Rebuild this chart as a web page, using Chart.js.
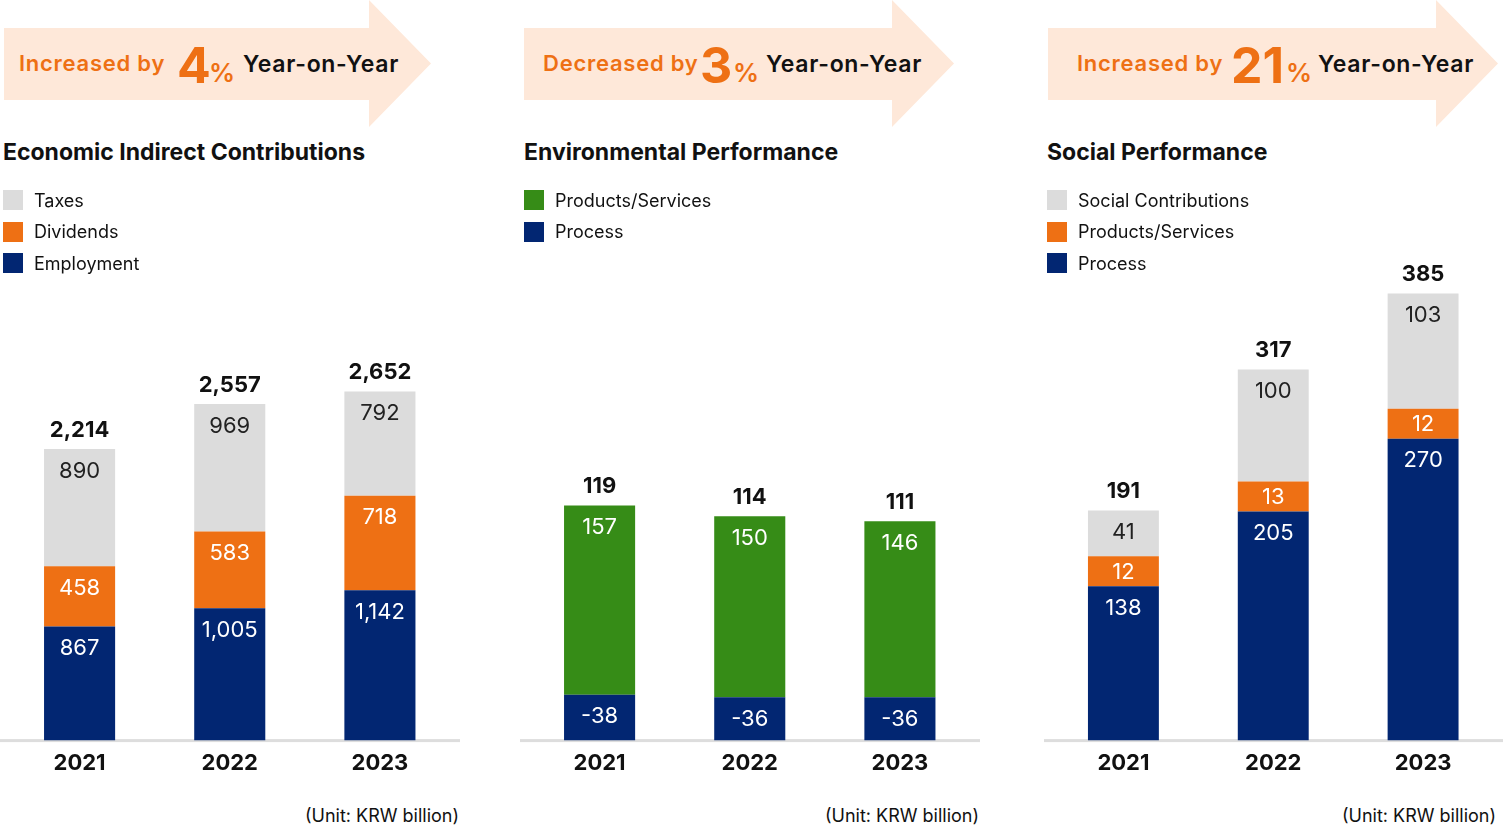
<!DOCTYPE html>
<html>
<head>
<meta charset="utf-8">
<script src="https://cdn.jsdelivr.net/npm/chart.js@4.4.1/dist/chart.umd.min.js"></script>
<style>
body{margin:0;background:#fff;font-family:Inter,"Noto Sans",sans-serif;}
#page{position:relative;width:1503px;height:826px;overflow:hidden;}
.arrow{position:absolute;top:0;height:127px;background:#fee8d9;}
.t{position:absolute;line-height:1;white-space:nowrap;}
.lead{font-size:22px;font-weight:600;color:#ee7014;letter-spacing:0.75px;}
.big{font-size:50px;font-weight:700;color:#ee7014;}
.pct{font-size:26px;font-weight:600;color:#ee7014;}
.yoy{font-size:23px;font-weight:600;color:#111;letter-spacing:0.7px;}
.title{font-size:23px;font-weight:700;color:#111;top:141px;}
.legend{position:absolute;top:190px;}
.legend div{height:20px;margin-bottom:11.5px;display:flex;align-items:center;font-size:18px;color:#111;}
.legend span{display:inline-block;width:20px;height:20px;margin-right:11px;}
.unit{font-size:18px;color:#111;top:807px;text-align:right;}
canvas{position:absolute;}
</style>
</head>
<body>
<div id="page">
  <!-- banners -->
  <div class="arrow" style="left:4px;width:427px;clip-path:polygon(0 28px,365px 28px,365px 0,427px 63.5px,365px 127px,365px 100px,0 100px);"></div>
  <span class="t lead" style="left:19px;top:52px;">Increased by</span>
  <span class="t big" style="left:177px;top:40px;">4</span>
  <span class="t pct" style="left:209px;top:60px;">%</span>
  <span class="t yoy" style="left:243px;top:53px;">Year-on-Year</span>

  <div class="arrow" style="left:524px;width:430px;clip-path:polygon(0 28px,368px 28px,368px 0,430px 63.5px,368px 127px,368px 100px,0 100px);"></div>
  <span class="t lead" style="left:543px;top:52px;">Decreased by</span>
  <span class="t big" style="left:700px;top:40px;">3</span>
  <span class="t pct" style="left:733px;top:60px;">%</span>
  <span class="t yoy" style="left:766px;top:53px;">Year-on-Year</span>

  <div class="arrow" style="left:1048px;width:450px;clip-path:polygon(0 28px,388px 28px,388px 0,450px 63.5px,388px 127px,388px 100px,0 100px);"></div>
  <span class="t lead" style="left:1077px;top:52px;">Increased by</span>
  <span class="t big" style="left:1231px;top:40px;">21</span>
  <span class="t pct" style="left:1286px;top:60px;">%</span>
  <span class="t yoy" style="left:1318px;top:53px;">Year-on-Year</span>

  <!-- titles -->
  <span class="t title" style="left:3px;">Economic Indirect Contributions</span>
  <span class="t title" style="left:524px;">Environmental Performance</span>
  <span class="t title" style="left:1047px;">Social Performance</span>

  <canvas id="c1" style="left:0;top:250px;width:460px;height:537px;" width="460" height="537"></canvas>
  <canvas id="c2" style="left:520px;top:250px;width:460px;height:537px;" width="460" height="537"></canvas>
  <canvas id="c3" style="left:1044px;top:250px;width:459px;height:537px;" width="459" height="537"></canvas>

  <div class="legend" id="l1" style="left:3px;"></div>
  <div class="legend" id="l2" style="left:524px;"></div>
  <div class="legend" id="l3" style="left:1047px;"></div>

  <span class="t unit" style="right:1044px;">(Unit: KRW billion)</span>
  <span class="t unit" style="right:524px;">(Unit: KRW billion)</span>
  <span class="t unit" style="right:7px;">(Unit: KRW billion)</span>
</div>
<script>
var years = ["2021", "2022", "2023"];

// economic indirect contributions
var ecoEmployment = [867, 1005, 1142];
var ecoDividends = [458, 583, 718];
var ecoTaxes = [890, 969, 792];
var ecoTotals = [2214, 2557, 2652];

// environmental performance (process is negative)
var envProcess = [-38, -36, -36];
var envProducts = [157, 150, 146];
var envTotals = [119, 114, 111];

// social performance
var socProcess = [138, 205, 270];
var socProducts = [12, 13, 12];
var socContrib = [41, 100, 103];
var socTotals = [191, 317, 385];

var NAVY = "#022672", ORANGE = "#ee7014", GRAY = "#dcdcdc", GREEN = "#368c17";

Chart.defaults.font.family = "Inter";

var barLabels = {
    id: "barLabels",
    afterDatasetsDraw: function (chart, args, opts) {
        var ctx = chart.ctx;
        ctx.save();
        ctx.textAlign = "center";
        ctx.textBaseline = "middle";
        ctx.font = "400 22px Inter";
        chart.data.datasets.forEach(function (ds, i) {
            chart.getDatasetMeta(i).data.forEach(function (bar, j) {
                var top = Math.min(bar.y, bar.base);
                var h = Math.abs(bar.base - bar.y);
                ctx.fillStyle = ds.labelColor;
                ctx.fillText(ds.shown[j].toLocaleString("en-US"), bar.x, top + Math.min(22, h / 2 + 1));
            });
        });
        var last = chart.getDatasetMeta(chart.data.datasets.length - 1);
        ctx.font = "700 22px Inter";
        ctx.fillStyle = "#111";
        last.data.forEach(function (bar, j) {
            ctx.fillText(opts.totals[j].toLocaleString("en-US"), bar.x, bar.y - 19);
        });
        ctx.restore();
    },
};

var baseLine = {
    id: "baseLine",
    beforeDatasetsDraw: function (chart) {
        var y = chart.scales.y.getPixelForValue(0);
        chart.ctx.save();
        chart.ctx.fillStyle = "#dddddd";
        chart.ctx.fillRect(0, y - 1.5, chart.width, 3);
        chart.ctx.restore();
    },
};

function makeSet(name, values, color, textColor) {
    return {
        label: name,
        data: values.map(Math.abs),
        shown: values,
        backgroundColor: color,
        labelColor: textColor,
        categoryPercentage: 1,
        barPercentage: 71 / 150,
        minBarLength: 30,
    };
}

function makeChart(id, legendId, sets, totals, yMax) {
    var chart = new Chart(document.getElementById(id), {
        type: "bar",
        data: { labels: years, datasets: sets },
        options: {
            responsive: false,
            animation: false,
            layout: { padding: { top: 30, left: 4.5, right: 5, bottom: 0 } },
            plugins: {
                legend: { display: false },
                tooltip: { enabled: false },
                barLabels: { totals: totals },
            },
            scales: {
                x: {
                    stacked: true,
                    grid: { display: false, drawTicks: false },
                    border: { display: false },
                    ticks: { color: "#111", padding: 10, font: { size: 22, weight: "700" } },
                },
                y: { stacked: true, display: false, min: 0, max: yMax },
            },
        },
        plugins: [baseLine, barLabels],
    });

    // legend, top of the stack first
    var html = "";
    sets.slice().reverse().forEach(function (ds) {
        html += '<div><span style="background:' + ds.backgroundColor + '"></span>' + ds.label + "</div>";
    });
    document.getElementById(legendId).innerHTML = html;
    return chart;
}

makeChart("c1", "l1", [
    makeSet("Employment", ecoEmployment, NAVY, "#fff"),
    makeSet("Dividends", ecoDividends, ORANGE, "#fff"),
    makeSet("Taxes", ecoTaxes, GRAY, "#222"),
], ecoTotals, 3500);

makeChart("c2", "l2", [
    makeSet("Process", envProcess, NAVY, "#fff"),
    makeSet("Products/Services", envProducts, GREEN, "#fff"),
], envTotals, 382);

makeChart("c3", "l3", [
    makeSet("Process", socProcess, NAVY, "#fff"),
    makeSet("Products/Services", socProducts, ORANGE, "#fff"),
    makeSet("Social Contributions", socContrib, GRAY, "#222"),
], socTotals, 412);
</script>
</body>
</html>
